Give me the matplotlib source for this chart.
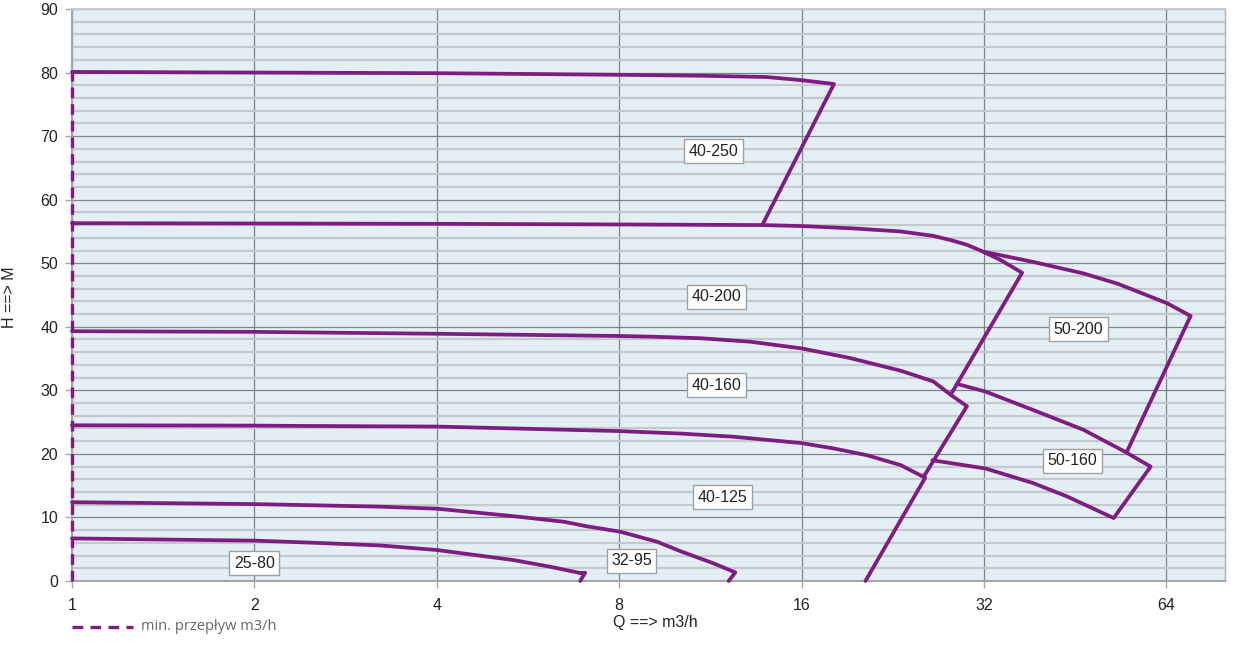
import matplotlib
matplotlib.use("Agg")
import matplotlib.pyplot as plt
from matplotlib.ticker import FixedLocator, MultipleLocator, NullFormatter

# ---- data (Q in m3/h, H in m) ----
q_40_250 = [1, 2, 4, 8, 10.9, 14.0, 16, 18.1, 13.8]
h_40_250 = [80.1, 80.0, 79.9, 79.65, 79.5, 79.3, 78.8, 78.2, 56.1]

q_40_200 = [1, 2, 4, 8, 13.8, 16, 19.3, 23.3, 26.4, 28.3, 30.0, 31.6, 34.1, 37.0, 28.2]
h_40_200 = [56.3, 56.25, 56.2, 56.1, 56.0, 55.85, 55.5, 55.0, 54.3, 53.6, 52.9, 52.0, 50.5, 48.5, 29.3]

q_40_160 = [1, 2, 4, 8, 9.0, 10.9, 13.17, 16, 19.2, 23.3, 26.4, 28.2, 30.0, 25.45]
h_40_160 = [39.3, 39.2, 38.9, 38.55, 38.45, 38.2, 37.65, 36.6, 35.1, 33.1, 31.4, 29.3, 27.5, 16.4]

q_40_125 = [1, 2, 2.38, 4, 7.93, 10.1, 12.35, 16, 18.1, 20.5, 23.3, 25.6, 20.4]
h_40_125 = [24.5, 24.45, 24.4, 24.3, 23.6, 23.2, 22.7, 21.7, 20.85, 19.8, 18.25, 16.25, 0.0]

q_32_95 = [1, 2, 3.22, 4, 5.35, 6.48, 7.08, 8.03, 9.24, 10.09, 11.45, 12.44, 12.13]
h_32_95 = [12.4, 12.1, 11.7, 11.38, 10.2, 9.33, 8.6, 7.76, 6.18, 4.7, 2.78, 1.35, 0.0]

q_25_80 = [1, 2, 2.38, 3.22, 4, 5.35, 6.23, 6.9, 7.03, 6.9]
h_25_80 = [6.7, 6.35, 6.1, 5.6, 4.88, 3.3, 2.15, 1.25, 1.3, 0.0]

q_50_200 = [32.0, 38.6, 46.7, 53.1, 56.5, 64.2, 70.2, 55.2]
h_50_200 = [51.8, 50.2, 48.4, 46.8, 45.8, 43.7, 41.7, 20.5]

q_50_160 = [28.9, 32.2, 38.6, 46.7, 54.8, 60.3, 52.4, 43.9, 38.6, 32.2, 26.3]
h_50_160 = [31.0, 29.8, 26.9, 23.8, 20.3, 18.0, 9.9, 13.3, 15.4, 17.7, 19.0]

q_min_flow = [1, 1]
h_min_flow = [0, 80]

series = [
    (q_40_250, h_40_250), (q_40_200, h_40_200), (q_40_160, h_40_160),
    (q_40_125, h_40_125), (q_32_95, h_32_95), (q_25_80, h_25_80),
    (q_50_200, h_50_200), (q_50_160, h_50_160),
]

label_names = ["40-250", "40-200", "40-160", "40-125", "32-95", "25-80", "50-200", "50-160"]
label_q = [11.44, 11.57, 11.57, 11.84, 8.38, 2.0, 45.8, 44.8]
label_h = [67.65, 44.7, 30.8, 13.2, 3.15, 2.83, 39.65, 18.9]

x_ticks = [1, 2, 4, 8, 16, 32, 64]

# ---- style ----
PURPLE = "#7D1D82"
BG = "#E3EEF5"
MINOR = "#C6C9CB"
MAJOR = "#7E868C"
TXT = "#222222"

fig = plt.figure(figsize=(12.39, 6.55), dpi=100)
ax = fig.add_axes([72 / 1239, 1 - 581 / 655, (1225 - 72) / 1239, (581 - 9) / 655])
ax.set_facecolor(BG)

ax.set_xscale("log", base=2)
ax.set_xlim(1, 80)
ax.set_ylim(0, 90)

ax.xaxis.set_major_locator(FixedLocator(x_ticks))
ax.set_xticklabels([str(t) for t in x_ticks])
ax.xaxis.set_minor_locator(FixedLocator([]))
ax.xaxis.set_minor_formatter(NullFormatter())
ax.yaxis.set_major_locator(MultipleLocator(10))
ax.yaxis.set_minor_locator(MultipleLocator(2))

ax.grid(which="minor", axis="y", color=MINOR, lw=1.6, zorder=0)
ax.grid(which="major", axis="y", color=MAJOR, lw=0.9, zorder=0.5)
ax.grid(which="major", axis="x", color=MAJOR, lw=0.9, zorder=0.5)
ax.set_axisbelow(True)

for side in ["left", "bottom"]:
    ax.spines[side].set_color("#A6A6A6")
    ax.spines[side].set_linewidth(1.5)
ax.spines["top"].set_color("#C6C9CB")
ax.spines["top"].set_linewidth(1.5)
ax.spines["right"].set_color("#B0B0B0")
ax.spines["right"].set_linewidth(1.0)

ax.tick_params(axis="both", which="major", direction="out", length=5, width=1,
               color="#A6A6A6", labelsize=11.5, labelcolor=TXT)
ax.tick_params(axis="y", which="minor", length=0)
ax.tick_params(axis="x", pad=7)
ax.tick_params(axis="y", pad=5)
for lab in ax.get_xticklabels() + ax.get_yticklabels():
    lab.set_fontfamily("Liberation Sans")

for q, h in series:
    ax.plot(q, h, color=PURPLE, lw=2.7, solid_joinstyle="round",
            solid_capstyle="round", zorder=3, clip_on=False)

ax.plot(q_min_flow, h_min_flow, color=PURPLE, lw=2.4, ls=(0, (3.2, 1.8)),
        zorder=3, clip_on=False)

for name, q, h in zip(label_names, label_q, label_h):
    ax.text(q, h, name, ha="center", va="center", fontsize=11.5, color=TXT,
            family="Liberation Sans", zorder=5,
            bbox=dict(boxstyle="square,pad=0.28", fc="white", ec="#A0A0A0", lw=1))

ax.set_ylabel("H ==> M", fontsize=11.5, color=TXT, family="Liberation Sans")
ax.yaxis.set_label_coords(-(72 - 10) / (1225 - 72), (581 - 297) / (581 - 9))
ax.set_xlabel("Q ==> m3/h", fontsize=11.5, color=TXT, family="Liberation Sans")
ax.xaxis.set_label_coords((655 - 72) / (1225 - 72), -(622 - 581) / (581 - 9))
ax.xaxis.label.set_va("center")
ax.yaxis.label.set_va("center")

# legend for min flow
fig.add_artist(plt.Line2D([72 / 1239, 133 / 1239], [1 - 627 / 655] * 2, color=PURPLE,
                          lw=2.4, ls=(0, (3.2, 2.2))))
fig.text(141 / 1239, 1 - 627 / 655, "min. przepływ m3/h", fontsize=10.5, color="#666666",
         va="center", ha="left", family="Open Sans")

fig.savefig("out.png", dpi=100)
